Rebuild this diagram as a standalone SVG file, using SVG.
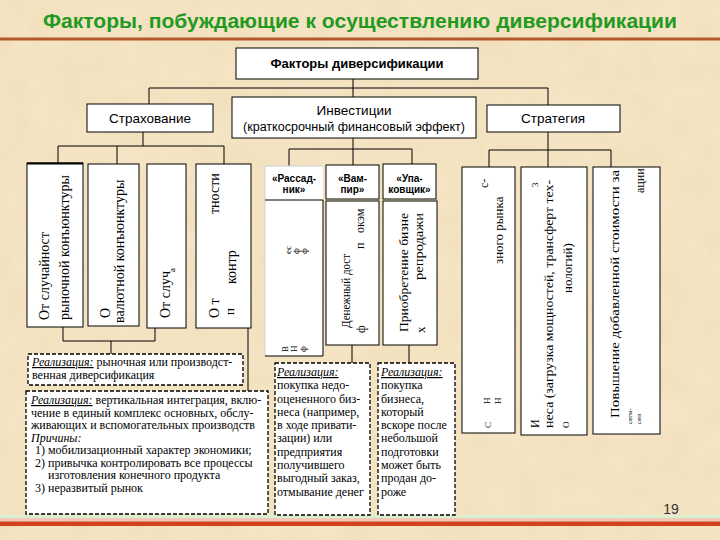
<svg xmlns="http://www.w3.org/2000/svg" width="720" height="540" viewBox="0 0 720 540">
<defs>
<filter id="grain" x="0" y="0" width="100%" height="100%">
<feTurbulence type="fractalNoise" baseFrequency="0.035" numOctaves="3" seed="7" result="n"/>
<feColorMatrix in="n" type="matrix" values="0 0 0 0 0.82  0 0 0 0 0.68  0 0 0 0 0.45  0 0 0 0.7 -0.25"/>
</filter>
<style>
.box{fill:#fff;stroke:#000;stroke-width:1}
.dbox{fill:#fff;stroke:#000;stroke-width:1.3;stroke-dasharray:4 2}
.conn{stroke:#000;stroke-width:1;fill:none}
.lbl{font-family:"Liberation Sans",Arial,sans-serif;font-size:13.5px;fill:#000;text-anchor:middle}
.hdr{font-family:"Liberation Sans",Arial,sans-serif;font-weight:bold;font-size:10px;fill:#000;text-anchor:middle}
.rot{font-family:"Liberation Serif","Times New Roman",serif;font-size:14px;fill:#000}
.rs{font-family:"Liberation Serif","Times New Roman",serif;font-size:13px;fill:#000}
.fr{font-family:"Liberation Serif","Times New Roman",serif;font-size:9px;fill:#000}
.t{font-family:"Liberation Serif","Times New Roman",serif;font-size:12px;fill:#000}
.it{font-style:italic;text-decoration:underline}
</style>
</defs>
<rect x="0" y="0" width="720" height="540" fill="#f5e4c3"/>
<rect x="0" y="0" width="720" height="540" filter="url(#grain)"/>
<text x="360" y="28" textLength="634" lengthAdjust="spacingAndGlyphs" style="font-family:'Liberation Sans',Arial,sans-serif;font-weight:bold;font-size:20px;fill:#229a22;text-anchor:middle">Факторы, побуждающие к осуществлению диверсификации</text>
<rect x="0" y="37.5" width="720" height="3" fill="#b5582a"/>
<rect x="0" y="515" width="720" height="3" fill="#d9efcf"/>
<rect x="0" y="518" width="720" height="3.5" fill="#f3c6b8"/>
<rect x="0" y="521.5" width="720" height="4.5" fill="#d2401e"/>
<text x="671" y="514" style="font-family:'Liberation Sans',Arial,sans-serif;font-size:14px;fill:#333;text-anchor:middle">19</text>

<g id="connectors" class="conn">
<path d="M353,79 V97"/>
<path d="M149,88 H548 M149,88 V104 M548,88 V105"/>
<path d="M143,132 V146 M58,146 H224 M58,146 V163 M117,146 V164 M224,146 V164"/>
<path d="M353,138 V149 M289,149 H412 M289,149 V166 M353,149 V165 M412,149 V164"/>
<path d="M548,132 V150 M489,150 H611 M489,150 V167 M548,150 V167 M611,150 V167"/>
<path d="M63,327 V341 H155 V328 M111,341 V354 M248,328 V391"/>
<path d="M352,345 V363 M409,345 V363"/>
</g>

<g id="root">
<rect class="box" x="236" y="48" width="242" height="31"/>
<text x="357" y="68" style="font-family:'Liberation Sans',Arial,sans-serif;font-weight:bold;font-size:13px;text-anchor:middle">Факторы диверсификации</text>
</g>
<g id="strahovanie">
<rect class="box" x="87" y="104" width="126" height="28"/>
<text class="lbl" x="150" y="123">Страхование</text>
</g>
<g id="investicii">
<rect class="box" x="232" y="97" width="244" height="41"/>
<text class="lbl" x="354" y="115">Инвестиции</text>
<text class="lbl" x="354" y="131" textLength="222" lengthAdjust="spacingAndGlyphs" style="font-size:12.5px">(краткосрочный финансовый эффект)</text>
</g>
<g id="strategiya">
<rect class="box" x="487" y="105" width="133" height="27"/>
<text class="lbl" x="553" y="123">Стратегия</text>
</g>

<g id="s1">
<rect class="box" x="27" y="163" width="56" height="164"/>
<line x1="27" y1="163.5" x2="83" y2="163.5" stroke="#000" stroke-width="2"/>
<text class="rot" transform="translate(49,320) rotate(-90)">От случайност</text>
<text class="rot" transform="translate(69,320) rotate(-90)">рыночной конъюнктуры</text>
</g>
<g id="s2">
<rect class="box" x="88" y="164" width="51" height="162"/>
<text class="rot" transform="translate(110,318) rotate(-90)">О</text>
<text class="rot" transform="translate(124,323) rotate(-90)">валютной конъюнктуры</text>
</g>
<g id="s3">
<rect class="box" x="147" y="164" width="39" height="164"/>
<text class="rot" transform="translate(170,318) rotate(-90)">От случ</text>
<text class="fr" transform="translate(175,272) rotate(-90)">а</text>
</g>
<g id="s4">
<rect class="box" x="196" y="164" width="55" height="164"/>
<text class="rot" transform="translate(219,318) rotate(-90)">О т</text>
<text class="rs" transform="translate(234,315) rotate(-90)">п</text>
<text class="rot" transform="translate(236,284) rotate(-90)">контр</text>
<text class="rot" transform="translate(219,214) rotate(-90)">тности</text>
</g>

<g id="rassadnik">
<rect x="265" y="166" width="58" height="190" fill="#fff"/>
<path d="M265,166 H323 M265,166 V356" stroke="#cfcfcf" stroke-width="1" fill="none"/>
<path d="M265,200 H323 M323,200 V356 H265" stroke="#000" stroke-width="1" fill="none"/>
<text class="hdr" x="294" y="182">«Рассад-</text>
<text class="hdr" x="294" y="193">ник»</text>
<text class="fr" transform="translate(291,254) rotate(-90)">ес</text>
<text class="fr" transform="translate(299,254) rotate(-90)">ф</text>
<text class="fr" transform="translate(307,254) rotate(-90)">ф</text>
<text class="fr" transform="translate(288,352) rotate(-90)">В</text>
<text class="fr" transform="translate(297,352) rotate(-90)">Н</text>
<text class="fr" transform="translate(306,352) rotate(-90)">ф</text>
</g>
<g id="vampir">
<rect class="box" x="326" y="165" width="53" height="34"/>
<rect class="box" x="326" y="201" width="53" height="144"/>
<text class="hdr" x="352.5" y="182">«Вам-</text>
<text class="hdr" x="352.5" y="193">пир»</text>
<text class="t" transform="translate(350,328) rotate(-90)" textLength="74" lengthAdjust="spacingAndGlyphs">Денежный дост</text>
<text class="t" transform="translate(365,333) rotate(-90)">ф</text>
<text class="t" transform="translate(364,249) rotate(-90)">п</text>
<text class="t" transform="translate(364,233) rotate(-90)">окэм</text>
</g>
<g id="upakovshik">
<rect class="box" x="383" y="164" width="53" height="35"/>
<rect class="box" x="383" y="201" width="54" height="144"/>
<text class="hdr" x="409.5" y="182">«Упа-</text>
<text class="hdr" x="409.5" y="193">ковщик»</text>
<text class="rs" transform="translate(408,332) rotate(-90)" textLength="119" lengthAdjust="spacingAndGlyphs">Приобретение бизне</text>
<text class="rs" transform="translate(423,280) rotate(-90)" textLength="67" lengthAdjust="spacingAndGlyphs">репродажи</text>
<text class="rs" transform="translate(425,333) rotate(-90)">х</text>
</g>

<g id="st1">
<rect class="box" x="462" y="167" width="53" height="266"/>
<text class="t" transform="translate(488,188) rotate(-90)">с-</text>
<text class="rs" transform="translate(503,264) rotate(-90)">зного рынка</text>
<text class="fr" transform="translate(490,404) rotate(-90)">Н</text>
<text class="fr" transform="translate(501,404) rotate(-90)">Н</text>
<text class="fr" transform="translate(491,428) rotate(-90)">С</text>
</g>
<g id="st2">
<rect class="box" x="521" y="167" width="66" height="268"/>
<text class="fr" transform="translate(538,187) rotate(-90)">3</text>
<text class="t" transform="translate(539,428) rotate(-90)">И</text>
<text class="rs" transform="translate(553,428) rotate(-90)" textLength="248" lengthAdjust="spacingAndGlyphs">неса (загрузка мощностей, трансферт тех-</text>
<text class="rs" transform="translate(572,293) rotate(-90)">нологий)</text>
<text class="fr" transform="translate(569,428) rotate(-90)">О</text>
</g>
<g id="st3">
<rect class="box" x="593" y="167" width="67" height="267"/>
<text class="rs" transform="translate(619,418) rotate(-90)" textLength="248" lengthAdjust="spacingAndGlyphs">Повышение добавленной стоимости за</text>
<text class="t" transform="translate(644,193) rotate(-90)">ации</text>
<text class="fr" transform="translate(632,424) rotate(-90)" style="font-size:7px">сегм-</text>
<text class="fr" transform="translate(641,424) rotate(-90)" style="font-size:7px">сеп</text>
</g>

<g id="d1">
<rect class="dbox" x="28" y="354" width="215" height="31"/>
<text class="t" x="32" y="366"><tspan class="it">Реализация:</tspan> рыночная или производст-</text>
<text class="t" x="32" y="379">венная диверсификация</text>
</g>
<g id="d2">
<rect class="dbox" x="26" y="391" width="242" height="123"/>
<text class="t" x="31" y="404"><tspan class="it">Реализация:</tspan> вертикальная интеграция, вклю-</text>
<text class="t" x="31" y="416.5">чение в единый комплекс основных, обслу-</text>
<text class="t" x="31" y="429">живающих и вспомогательных производств</text>
<text class="t" x="31" y="441.5" font-style="italic">Причины:</text>
<text class="t" x="35" y="454">1) мобилизационный характер экономики;</text>
<text class="t" x="35" y="466.5">2) привычка контролировать все процессы</text>
<text class="t" x="48" y="479">изготовления конечного продукта</text>
<text class="t" x="35" y="492">3) неразвитый рынок</text>
</g>
<g id="d3">
<rect class="dbox" x="275" y="363" width="95" height="152"/>
<text class="t" x="277" y="376"><tspan class="it">Реализация:</tspan></text>
<text class="t" x="277" y="389">покупка недо-</text>
<text class="t" x="277" y="402.5">оцененного биз-</text>
<text class="t" x="277" y="415.5">неса (например,</text>
<text class="t" x="277" y="429">в ходе привати-</text>
<text class="t" x="277" y="442">зации) или</text>
<text class="t" x="277" y="455.5">предприятия</text>
<text class="t" x="277" y="468.5">получившего</text>
<text class="t" x="277" y="482">выгодный заказ,</text>
<text class="t" x="277" y="495.5">отмывание денег</text>
</g>
<g id="d4">
<rect class="dbox" x="378" y="363" width="77" height="152"/>
<text class="t" x="381" y="376"><tspan class="it">Реализация:</tspan></text>
<text class="t" x="381" y="389">покупка</text>
<text class="t" x="381" y="402.5">бизнеса,</text>
<text class="t" x="381" y="415.5">который</text>
<text class="t" x="381" y="429">вскоре после</text>
<text class="t" x="381" y="442">небольшой</text>
<text class="t" x="381" y="455.5">подготовки</text>
<text class="t" x="381" y="468.5">может быть</text>
<text class="t" x="381" y="482">продан до-</text>
<text class="t" x="381" y="495.5">роже</text>
</g>
</svg>
